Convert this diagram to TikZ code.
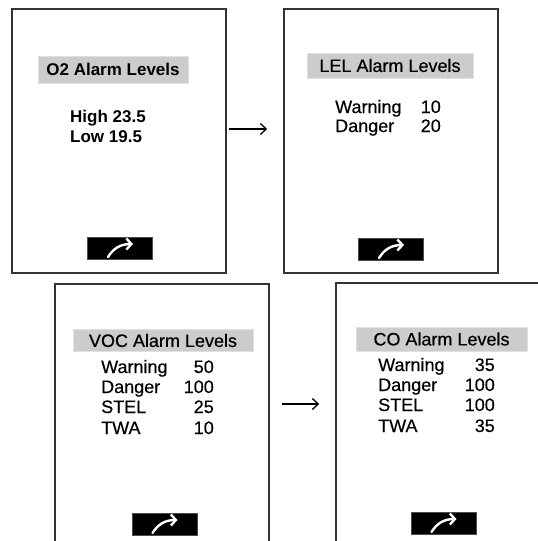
\documentclass[tikz,border=0pt]{standalone}
\usepackage{fontspec}
\setmainfont{Liberation Sans}
\newfontfamily\lcdfont{Liberation Sans}[FakeBold=0.4]
\usetikzlibrary{arrows.meta}

\tikzset{
  screen/.style={draw=black!80, line width=1.5pt, minimum width=214pt, minimum height=264pt, inner sep=0pt},
  titlebar/.style={fill=black!20, draw=black!12, line width=0.6pt, inner sep=0pt},
  row/.style={anchor=base west, inner sep=0pt, font=\fontsize{18}{20}\lcdfont},
  val/.style={anchor=base east, inner sep=0pt, font=\fontsize{18}{20}\lcdfont},
  brow/.style={anchor=base west, inner sep=0pt, font=\fontsize{17}{20}\selectfont\bfseries},
  btn/.style={fill=black, draw=black!70, line width=0.5pt, minimum width=65pt, minimum height=22pt, inner sep=0pt},
  btnarrow/.style={white, line width=2.4pt, line cap=round, -{Straight Barb[length=5pt,width=11pt,line width=2.4pt]}},
  flow/.style={line width=1.3pt, -{Straight Barb[length=6pt,width=11pt]}}
}

\newcommand{\nextarrow}[1]{\draw[btnarrow, shift={(#1.center)}] (-12,9) .. controls (-7,1) and (0,-4) .. (13,-4);}

\begin{document}
\begin{tikzpicture}[x=1pt, y=-1pt]
\useasboundingbox (0,0) rectangle (538,541);
\clip (0,0) rectangle (538,541);

% screens
\node[screen] (o2) at (119,141) {};
\node[screen] (lel) at (391,141) {};
\node[screen] (voc) at (162,416) {};
\node[screen] (co) at (443,415) {};

% O2 screen
\node[titlebar, minimum width=150pt, minimum height=27pt, font=\fontsize{17}{20}\selectfont\bfseries] (o2title) at (113,69.5) {O2 Alarm Levels};
\node[brow] (o2high) at (70,122) {High 23.5};
\node[brow] (o2low) at (70,142) {Low 19.5};
\node[btn] (o2btn) at (120,248) {};
\nextarrow{o2btn}

% LEL screen
\node[titlebar, minimum width=166pt, minimum height=25pt, font=\fontsize{18}{20}\lcdfont] (leltitle) at (390,65.5) {LEL Alarm Levels};
\node[row] (lelwarn) at (335,113) {Warning};
\node[row] (leldang) at (335,132) {Danger};
\node[val] (lelwarnv) at (441,113) {10};
\node[val] (leldangv) at (441,132) {20};
\node[btn] (lelbtn) at (391,249) {};
\nextarrow{lelbtn}

% VOC screen
\node[titlebar, minimum width=180pt, minimum height=22pt, font=\fontsize{18}{20}\lcdfont] (voctitle) at (163,340.5) {VOC Alarm Levels};
\node[row] (vocwarn) at (101,373) {Warning};
\node[row] (vocdang) at (101,393) {Danger};
\node[row] (vocstel) at (101,413) {STEL};
\node[row] (voctwa) at (101,434) {TWA};
\node[val] (vocwarnv) at (214,373) {50};
\node[val] (vocdangv) at (214,393) {100};
\node[val] (vocstelv) at (214,413) {25};
\node[val] (voctwav) at (214,434) {10};
\node[btn] (vocbtn) at (164.5,524) {};
\nextarrow{vocbtn}

% CO screen
\node[titlebar, minimum width=171pt, minimum height=24pt, font=\fontsize{18}{20}\lcdfont] (cotitle) at (441.5,339) {CO Alarm Levels};
\node[row] (cowarn) at (378,371) {Warning};
\node[row] (codang) at (378,391) {Danger};
\node[row] (costel) at (378,411) {STEL};
\node[row] (cotwa) at (378,432) {TWA};
\node[val] (cowarnv) at (495,371) {35};
\node[val] (codangv) at (495,391) {100};
\node[val] (costelv) at (495,411) {100};
\node[val] (cotwav) at (495,432) {35};
\node[btn] (cobtn) at (443.5,523) {};
\nextarrow{cobtn}

% flow between screens
\draw[flow] ([xshift=2pt,yshift=12pt]o2.east) -- ([xshift=-16pt,yshift=12pt]lel.west);
\draw[flow] ([xshift=12pt,yshift=12pt]voc.east) -- ([xshift=-16pt,yshift=11pt]co.west);
\end{tikzpicture}
\end{document}
